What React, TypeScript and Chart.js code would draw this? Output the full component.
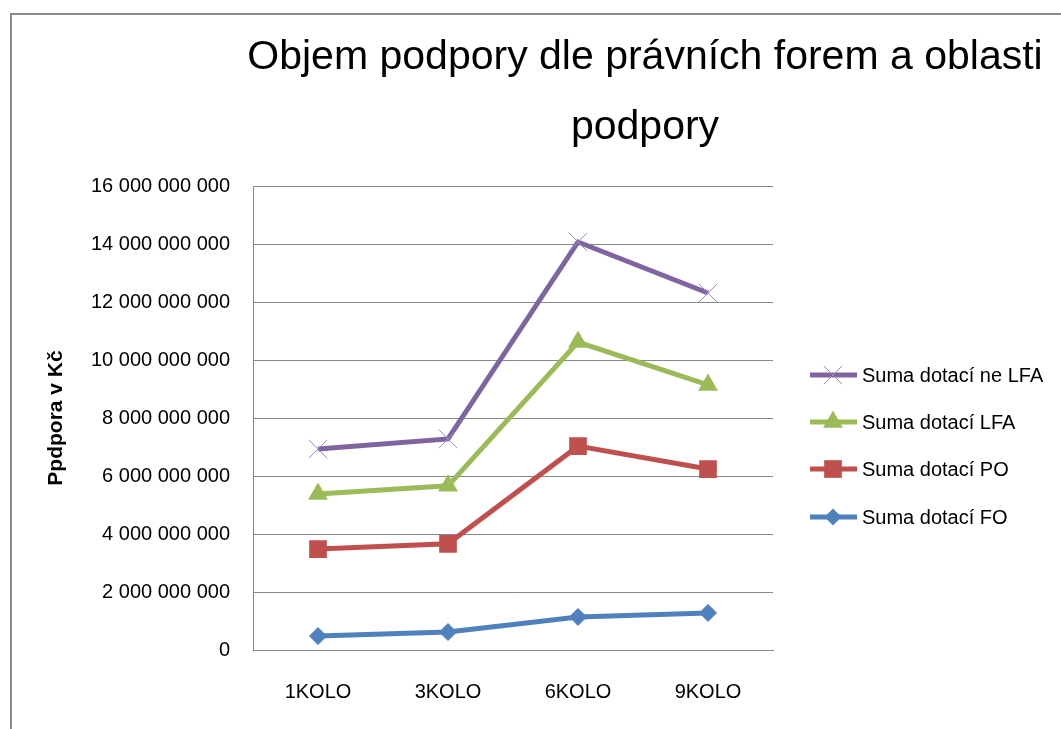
import React, { useEffect, useRef } from "react";
import { Chart, registerables } from "chart.js";

Chart.register(...registerables);

const categories = ["1KOLO", "3KOLO", "6KOLO", "9KOLO"];
const sumaFO = [480000000, 620000000, 1140000000, 1280000000];
const sumaPO = [3480000000, 3660000000, 7030000000, 6240000000];
const sumaLFA = [5380000000, 5660000000, 10620000000, 9140000000];
const sumaNeLFA = [6930000000, 7280000000, 14070000000, 12310000000];
const seriesNames = ["Suma dotací FO", "Suma dotací PO", "Suma dotací LFA", "Suma dotací ne LFA"];
const titleLines = ["Objem podpory dle právních forem a oblasti", "podpory"];
const yAxisTitle = "Ppdpora v Kč";

const FONT = "'Liberation Sans', Arial, sans-serif";

function formatNum(v: number) {
  return String(v).replace(/\B(?=(\d{3})+(?!\d))/g, " ");
}

function drawMarker(ctx: CanvasRenderingContext2D, style: string, x: number, y: number, r: number, fill: string, stroke: string, bw: number) {
  ctx.save();
  ctx.fillStyle = fill;
  ctx.strokeStyle = stroke;
  ctx.lineWidth = bw;
  ctx.beginPath();
  if (style === "crossRot") {
    const o = 0.7071 * r;
    ctx.moveTo(x - o, y - o);
    ctx.lineTo(x + o, y + o);
    ctx.moveTo(x - o, y + o);
    ctx.lineTo(x + o, y - o);
    ctx.stroke();
  } else if (style === "triangle") {
    ctx.moveTo(x, y - r);
    ctx.lineTo(x + 0.866 * r, y + r / 2);
    ctx.lineTo(x - 0.866 * r, y + r / 2);
    ctx.closePath();
    ctx.fill();
  } else if (style === "rect") {
    const s = 0.7071 * r;
    ctx.rect(x - s, y - s, 2 * s, 2 * s);
    ctx.fill();
  } else if (style === "rectRot") {
    ctx.moveTo(x, y - r);
    ctx.lineTo(x + r, y);
    ctx.lineTo(x, y + r);
    ctx.lineTo(x - r, y);
    ctx.closePath();
    ctx.fill();
  }
  ctx.restore();
}

const decorPlugin = {
  id: "decor",
  beforeDraw(chart: any) {
    const ctx = chart.ctx as CanvasRenderingContext2D;
    ctx.save();
    ctx.fillStyle = "#ffffff";
    ctx.fillRect(0, 0, chart.width, chart.height);
    ctx.strokeStyle = "#8a8a8a";
    ctx.lineWidth = 2;
    ctx.beginPath();
    ctx.moveTo(11, chart.height + 2);
    ctx.lineTo(11, 14);
    ctx.lineTo(chart.width + 2, 14);
    ctx.stroke();
    ctx.restore();
  },
  afterDraw(chart: any) {
    const ctx = chart.ctx as CanvasRenderingContext2D;
    ctx.save();
    // Title
    ctx.fillStyle = "#000";
    ctx.font = `41px ${FONT}`;
    ctx.textAlign = "center";
    ctx.textBaseline = "alphabetic";
    ctx.fillText(titleLines[0], 645, 69);
    ctx.fillText(titleLines[1], 645, 139);
    // Legend (reversed order)
    const ds = chart.data.datasets;
    const rows = [375, 422, 469, 517];
    for (let i = 0; i < ds.length; i++) {
      const d = ds[ds.length - 1 - i];
      const y = rows[i];
      ctx.strokeStyle = d.borderColor;
      ctx.lineWidth = d.borderWidth;
      ctx.beginPath();
      ctx.moveTo(810, y);
      ctx.lineTo(857, y);
      ctx.stroke();
      drawMarker(ctx, d.pointStyle, 833, y, d.pointRadius, d.pointBackgroundColor, d.pointBorderColor, d.pointBorderWidth);
      ctx.fillStyle = "#000";
      ctx.font = `20px ${FONT}`;
      ctx.textAlign = "left";
      ctx.textBaseline = "middle";
      ctx.fillText(d.label, 862, y + 1);
    }
    ctx.restore();
  },
};

export default function App() {
  const ref = useRef<HTMLCanvasElement | null>(null);
  useEffect(() => {
    if (!ref.current) return;
    const chart = new Chart(ref.current, {
      type: "line",
      data: {
        labels: categories,
        datasets: [
          {
            label: seriesNames[0],
            data: sumaFO,
            borderColor: "#4F81BD",
            backgroundColor: "#4F81BD",
            borderWidth: 5,
            pointStyle: "rectRot",
            pointRadius: 8.5,
            pointBackgroundColor: "#4F81BD",
            pointBorderColor: "#4F81BD",
            pointBorderWidth: 1,
          },
          {
            label: seriesNames[1],
            data: sumaPO,
            borderColor: "#C0504D",
            backgroundColor: "#C0504D",
            borderWidth: 5,
            pointStyle: "rect",
            pointRadius: 12.5,
            pointBackgroundColor: "#C0504D",
            pointBorderColor: "#C0504D",
            pointBorderWidth: 0,
          },
          {
            label: seriesNames[2],
            data: sumaLFA,
            borderColor: "#9BBB59",
            backgroundColor: "#9BBB59",
            borderWidth: 5,
            pointStyle: "triangle",
            pointRadius: 11.5,
            pointBackgroundColor: "#9BBB59",
            pointBorderColor: "#9BBB59",
            pointBorderWidth: 0,
          },
          {
            label: seriesNames[3],
            data: sumaNeLFA,
            borderColor: "#8064A2",
            backgroundColor: "#8064A2",
            borderWidth: 5,
            pointStyle: "crossRot",
            pointRadius: 13,
            pointBackgroundColor: "#A08CC4",
            pointBorderColor: "#A08CC4",
            pointBorderWidth: 1,
          },
        ] as any,
      },
      options: {
        animation: false,
        responsive: true,
        maintainAspectRatio: false,
        layout: { padding: { left: 0, top: 186, right: 288, bottom: 0 } },
        plugins: {
          legend: { display: false },
          title: { display: false },
          tooltip: { enabled: false },
        },
        elements: { line: { tension: 0 } },
        scales: {
          x: {
            offset: true,
            grid: { display: false, drawTicks: false },
            border: { display: true, color: "#878787", width: 1 },
            ticks: {
              color: "#000",
              font: { family: FONT, size: 20 },
              padding: 30,
              maxRotation: 0,
            },
            afterFit: (s: any) => {
              s.height = 79;
            },
          },
          y: {
            min: 0,
            max: 16000000000,
            grid: { color: "#878787", lineWidth: 1, drawTicks: false },
            border: { display: true, color: "#878787", width: 1 },
            ticks: {
              stepSize: 2000000000,
              color: "#000",
              font: { family: FONT, size: 20 },
              padding: 23,
              callback: (v: any) => formatNum(Number(v)),
            },
            title: {
              display: true,
              text: yAxisTitle,
              color: "#000",
              font: { family: FONT, size: 21, weight: "bold" },
              padding: { top: 44, bottom: 0 },
            },
            afterFit: (s: any) => {
              s.width = 253;
            },
          },
        },
      },
      plugins: [decorPlugin],
    });
    return () => chart.destroy();
  }, []);
  return (
    <div style={{ position: "absolute", left: 0, top: 0, width: 1061, height: 729 }}>
      <canvas ref={ref} />
    </div>
  );
}
